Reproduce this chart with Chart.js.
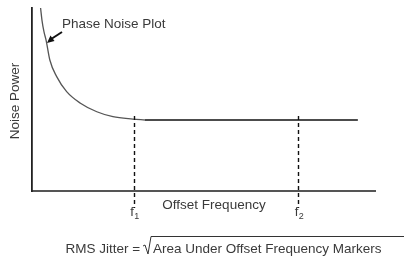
<!DOCTYPE html>
<html><head><meta charset="utf-8">
<script src="https://cdn.jsdelivr.net/npm/chart.js@4.4.1/dist/chart.umd.min.js"></script>
<style>html,body{margin:0;padding:0;background:#fff}#w{width:404px;height:264px}</style>
</head><body><div id="w"><canvas id="c"></canvas></div>
<script>
// Data (arbitrary units)
const curveX = [2.5, 2.9, 3.5, 4.1, 5.2, 7.2, 10.1, 14.0, 18.9, 23.6, 29.4, 32.9];
const curveY = [100, 93.4, 86.9, 82.5, 71.6, 62.5, 54.3, 48.1, 43.3, 40.6, 39.3, 38.8];
const floorX = [32.9, 95];
const floorY = [38.8, 38.8];
const markerX = [29.7, 77.6];
const markerLabels = ['1', '2'];
const xTitle = 'Offset Frequency';
const yTitle = 'Noise Power';
const curveLabel = 'Phase Noise Plot';
const formulaLeft = 'RMS Jitter = ';
const formulaRight = 'Area Under Offset Frequency Markers';

const FONT = '"Liberation Sans", Arial, sans-serif';
const TXT = '#3a3a3a';
const FS = '13.5px ';

const deco = {
  id: 'deco',
  afterDraw(chart) {
    const {ctx, scales: {x, y}, chartArea: a} = chart;
    ctx.save();
    // dashed markers
    ctx.strokeStyle = '#111';
    ctx.lineWidth = 1.4;
    ctx.setLineDash([4, 3]);
    markerX.forEach(v => {
      const px = Math.round(x.getPixelForValue(v)) + 0.5;
      ctx.beginPath();
      ctx.moveTo(px, y.getPixelForValue(floorY[0]) - 4);
      ctx.lineTo(px, a.bottom + 17);
      ctx.stroke();
    });
    ctx.setLineDash([]);
    // marker labels
    ctx.fillStyle = TXT;
    ctx.textBaseline = 'alphabetic';
    markerX.forEach((v, i) => {
      const px = x.getPixelForValue(v);
      ctx.font = '13px ' + FONT;
      ctx.textAlign = 'left';
      ctx.fillText('f', px - 3.5, a.bottom + 25);
      ctx.font = '9px ' + FONT;
      ctx.fillText(markerLabels[i], px + 0.5, a.bottom + 28);
    });
    // axis titles
    ctx.font = FS + FONT;
    ctx.textAlign = 'center';
    ctx.fillText(xTitle, 214, a.bottom + 18);
    ctx.save();
    ctx.translate(19, 101);
    ctx.rotate(-Math.PI / 2);
    ctx.fillText(yTitle, 0, 0);
    ctx.restore();
    // curve label + arrow
    ctx.textAlign = 'left';
    ctx.fillText(curveLabel, 62, 28);
    ctx.strokeStyle = '#111';
    ctx.fillStyle = '#111';
    ctx.lineWidth = 2;
    ctx.beginPath(); ctx.moveTo(62, 32); ctx.lineTo(52, 38.5); ctx.stroke();
    ctx.beginPath(); ctx.moveTo(47, 43); ctx.lineTo(50.5, 35.5); ctx.lineTo(54.5, 41); ctx.closePath(); ctx.fill();
    // formula
    ctx.fillStyle = TXT;
    ctx.font = FS + FONT;
    ctx.textAlign = 'right';
    ctx.fillText(formulaLeft, 144, 253);
    ctx.textAlign = 'left';
    ctx.fillText(formulaRight, 153, 253);
    ctx.strokeStyle = '#333';
    ctx.lineWidth = 1;
    ctx.beginPath();
    ctx.moveTo(143, 246); ctx.lineTo(145, 245); ctx.lineTo(148, 254); ctx.lineTo(151, 236.5); ctx.lineTo(404, 236.5);
    ctx.stroke();
    ctx.restore();
  }
};

new Chart(document.getElementById('c'), {
  type: 'line',
  data: {
    datasets: [
      { data: curveX.map((v, i) => ({x: v, y: curveY[i]})), borderColor: '#555', borderWidth: 1.3, pointRadius: 0, cubicInterpolationMode: 'monotone' },
      { data: floorX.map((v, i) => ({x: v, y: floorY[i]})), borderColor: '#111', borderWidth: 1.6, pointRadius: 0 }
    ]
  },
  options: {
    responsive: true, maintainAspectRatio: false, animation: false,
    layout: { padding: { left: 32, top: 8, right: 29, bottom: 73 } },
    plugins: { legend: { display: false }, tooltip: { enabled: false } },
    scales: {
      x: { type: 'linear', min: 0, max: 100, grid: { display: false, drawTicks: false }, ticks: { display: false }, border: { display: true, color: '#555', width: 2 } },
      y: { type: 'linear', min: 0, max: 100, grid: { display: false, drawTicks: false }, ticks: { display: false }, border: { display: true, color: '#222', width: 1.8 } }
    }
  },
  plugins: [deco]
});
</script>
</body></html>
